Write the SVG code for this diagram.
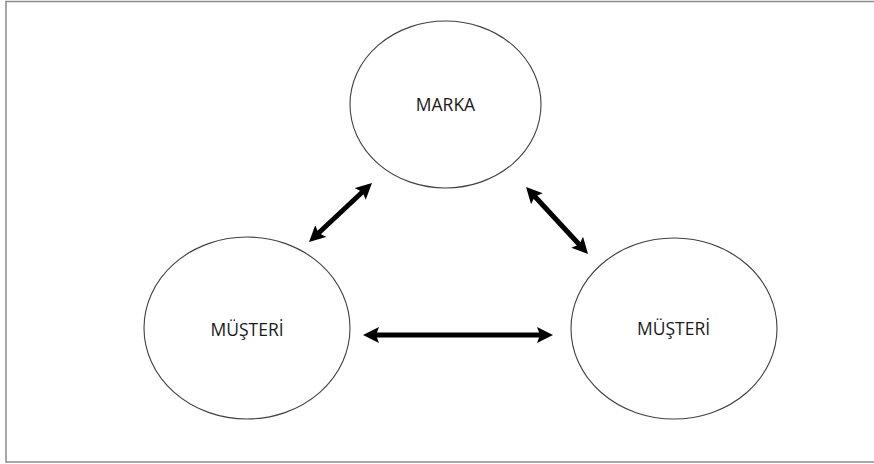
<svg xmlns="http://www.w3.org/2000/svg" width="874" height="464" viewBox="0 0 874 464">
  <style>
    .frame { fill: none; stroke: #8a8a8a; stroke-width: 1.5; }
    .node ellipse { fill: #ffffff; stroke: #404040; stroke-width: 1.1; }
    .node text { font-family: "Open Sans", "Noto Sans", sans-serif; font-size: 17.5px; fill: #1a1a1a; text-anchor: middle; }
    .link { stroke: #000000; stroke-width: 5; fill: none; marker-start: url(#head); marker-end: url(#head); }
  </style>
  <defs>
    <marker id="head" viewBox="0 0 16 16" refX="4" refY="8" markerWidth="16" markerHeight="16" markerUnits="userSpaceOnUse" orient="auto-start-reverse">
      <path d="M0,0 L16,8 L0,16 L3,8 z" fill="#000000"/>
    </marker>
  </defs>

  <rect class="frame" x="6" y="1.5" width="880" height="460.5"/>

  <g id="marka" class="node">
    <ellipse cx="445.5" cy="104.5" rx="95.5" ry="83.5"/>
    <text x="445.5" y="111">MARKA</text>
  </g>

  <g id="musteri-left" class="node">
    <ellipse cx="247" cy="328" rx="103" ry="91"/>
    <text x="247" y="336">MÜŞTERİ</text>
  </g>

  <g id="musteri-right" class="node">
    <ellipse cx="674" cy="328.5" rx="103" ry="90.5"/>
    <text x="673.5" y="335">MÜŞTERİ</text>
  </g>

  <g id="connectors">
    <line class="link" x1="317.8" y1="233.8" x2="363.2" y2="191.2"/>
    <line class="link" x1="534.2" y1="195.8" x2="579.9" y2="245.2"/>
    <line class="link" x1="375" y1="335" x2="541" y2="335"/>
  </g>
</svg>
